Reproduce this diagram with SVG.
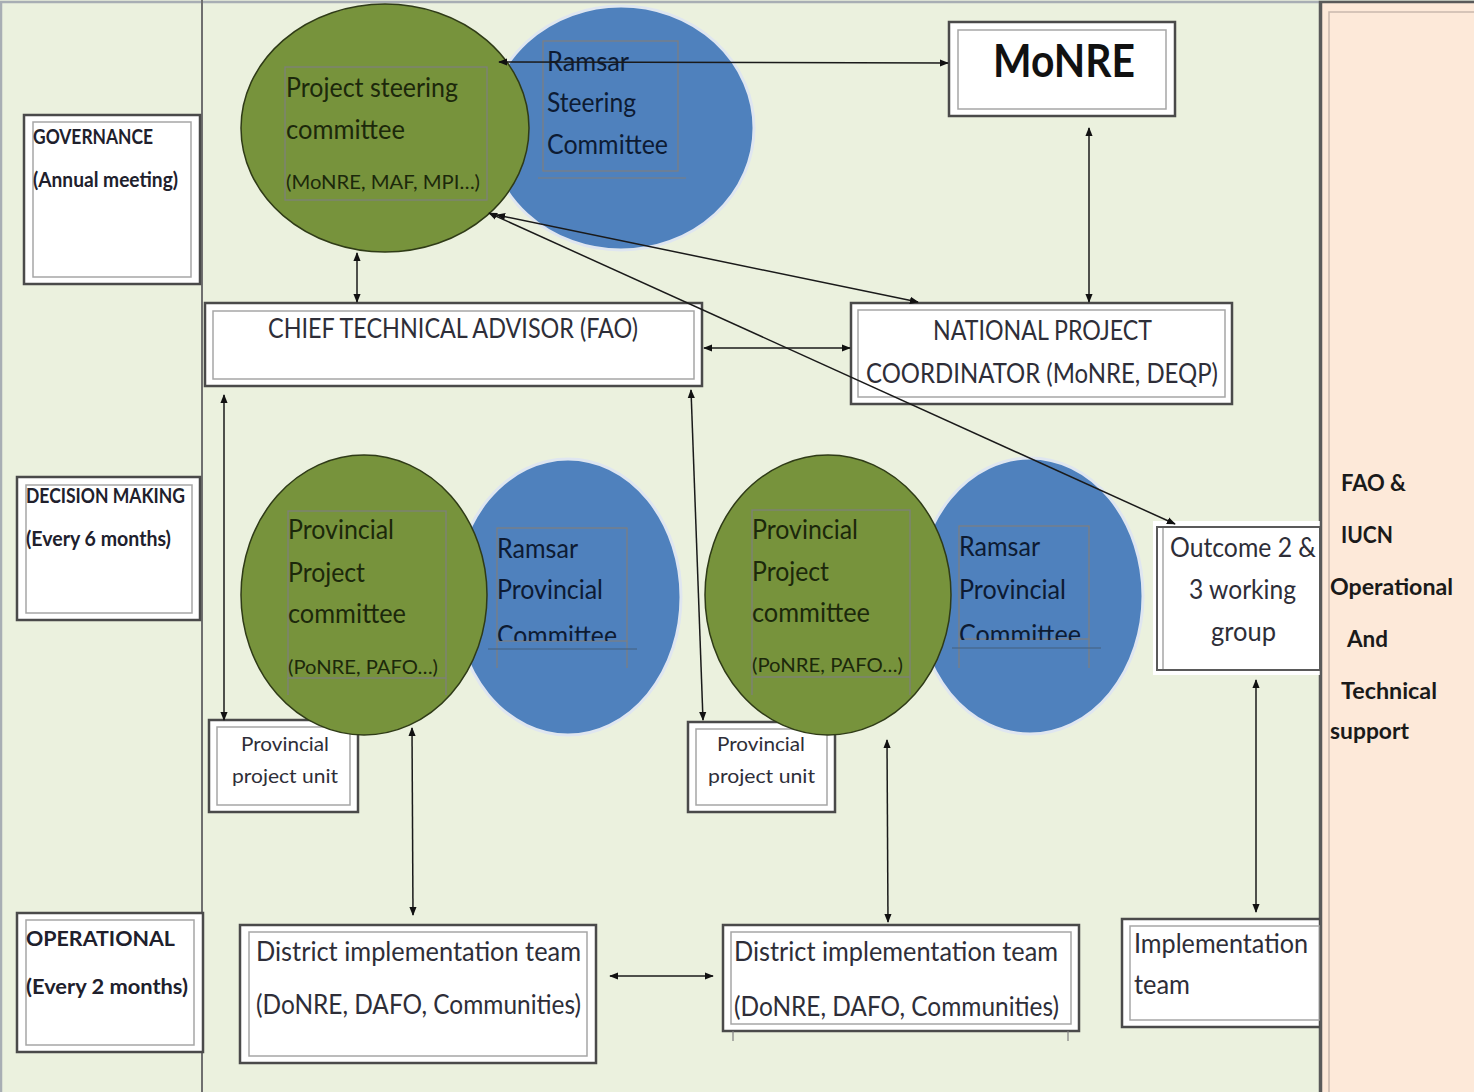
<svg xmlns="http://www.w3.org/2000/svg" width="1474" height="1092" viewBox="0 0 1474 1092">
<defs>
<style>
.t{font-family:Lato,"Liberation Sans",sans-serif;font-size:26px;fill:#2e2e38}
.sm{font-size:20px}
.g{fill:#1c280b}
.b{fill:#0d1b33}
.lbl{font-family:Lato,"Liberation Sans",sans-serif;font-size:20px;font-weight:bold;fill:#20202c}
.rp{font-family:Lato,"Liberation Sans",sans-serif;font-size:22px;font-weight:bold;fill:#1a1a1a}
.ob{fill:#fff;stroke:#4a4a4a;stroke-width:2.5}
.ib{fill:none;stroke:#a6a6a6;stroke-width:1.5}
.gc{fill:#77933C;stroke:#2f3b17;stroke-width:1.5}
.bc{fill:#4F81BD;stroke:#dfe6f0;stroke-width:3}
.tf{fill:none;stroke:#7f7f7f;stroke-width:1.2}
#connectors line{stroke:#1a1a1a;stroke-width:1.5;marker-start:url(#ah);marker-end:url(#ah)}
</style>
<marker id="ah" viewBox="0 0 10 10" refX="9" refY="5" markerWidth="9" markerHeight="9" markerUnits="userSpaceOnUse" orient="auto-start-reverse">
<path d="M0,1 L10,5 L0,9 z" fill="#111"/>
</marker>
<clipPath id="cb1"><rect x="480" y="520" width="170" height="121"/></clipPath>
<clipPath id="cb2"><rect x="940" y="520" width="170" height="120"/></clipPath>
</defs>

<!-- background -->
<rect x="0" y="0" width="1474" height="1092" fill="#EBF1DE"/>
<rect x="1" y="2" width="1480" height="1095" fill="none" stroke="#a8aeb4" stroke-width="2.5"/>
<line x1="202" y1="0" x2="202" y2="1092" stroke="#6f6f6f" stroke-width="2"/>

<!-- right panel -->
<g id="support-panel">
<rect x="1320" y="2" width="160" height="1100" fill="#FDE9D9" stroke="#5a5a5a" stroke-width="2.5"/>
<rect x="1329" y="12" width="160" height="1100" fill="none" stroke="#c9b8ad" stroke-width="1.5"/>
<text class="rp" x="1341" y="491" textLength="65" lengthAdjust="spacingAndGlyphs">FAO &amp;</text>
<text class="rp" x="1341" y="543" textLength="52" lengthAdjust="spacingAndGlyphs">IUCN</text>
<text class="rp" x="1330" y="595" textLength="123" lengthAdjust="spacingAndGlyphs">Operational</text>
<text class="rp" x="1347" y="647" textLength="41" lengthAdjust="spacingAndGlyphs">And</text>
<text class="rp" x="1341" y="699" textLength="96" lengthAdjust="spacingAndGlyphs">Technical</text>
<text class="rp" x="1330" y="739" textLength="79" lengthAdjust="spacingAndGlyphs">support</text>
</g>

<!-- level labels -->
<g id="governance">
<rect class="ob" x="24" y="115" width="176" height="169"/>
<rect class="ib" x="33" y="122" width="158" height="155"/>
<text class="lbl" x="33" y="144" textLength="120" lengthAdjust="spacingAndGlyphs">GOVERNANCE</text>
<text class="lbl" x="33" y="187" textLength="145" lengthAdjust="spacingAndGlyphs">(Annual meeting)</text>
</g>
<g id="decision-making">
<rect class="ob" x="17" y="477" width="183" height="143"/>
<rect class="ib" x="26" y="485" width="166" height="128"/>
<text class="lbl" x="26" y="503" textLength="159" lengthAdjust="spacingAndGlyphs">DECISION MAKING</text>
<text class="lbl" x="26" y="546" textLength="145" lengthAdjust="spacingAndGlyphs">(Every 6  months)</text>
</g>
<g id="operational">
<rect class="ob" x="17" y="913" width="186" height="139"/>
<rect class="ib" x="26" y="920" width="168" height="125"/>
<text class="lbl" x="26" y="946" textLength="149" lengthAdjust="spacingAndGlyphs">OPERATIONAL</text>
<text class="lbl" x="26" y="994" textLength="162" lengthAdjust="spacingAndGlyphs">(Every 2  months)</text>
</g>

<!-- top committees -->
<g id="ramsar-steering">
<ellipse class="bc" cx="621" cy="128" rx="133" ry="122"/>
<rect class="tf" x="543" y="41" width="135" height="130"/>
<line class="tf" x1="538" y1="178" x2="686" y2="178"/>
<text class="t b" x="547" y="71" textLength="82" lengthAdjust="spacingAndGlyphs">Ramsar</text>
<text class="t b" x="547" y="112" textLength="89" lengthAdjust="spacingAndGlyphs">Steering</text>
<text class="t b" x="547" y="154" textLength="121" lengthAdjust="spacingAndGlyphs">Committee</text>
</g>
<g id="project-steering">
<ellipse class="gc" cx="385" cy="128" rx="144" ry="124"/>
<rect class="tf" x="285" y="67" width="202" height="133"/>
<text class="t g" x="286" y="97" textLength="172" lengthAdjust="spacingAndGlyphs">Project steering</text>
<text class="t g" x="286" y="139" textLength="119" lengthAdjust="spacingAndGlyphs">committee</text>
<text class="t g sm" x="286" y="189" textLength="194" lengthAdjust="spacingAndGlyphs">(MoNRE,  MAF, MPI…)</text>
</g>

<g id="monre">
<rect class="ob" x="949" y="22" width="226" height="94"/>
<rect class="ib" x="958" y="30" width="208" height="79"/>
<text x="1064" y="77" text-anchor="middle" font-family="Lato,'Liberation Sans',sans-serif" font-size="46" font-weight="bold" fill="#111" textLength="142" lengthAdjust="spacingAndGlyphs">MoNRE</text>
</g>

<g id="cta">
<rect class="ob" x="205" y="303" width="497" height="83"/>
<rect class="ib" x="213" y="311" width="481" height="68"/>
<text class="t" x="268" y="338" textLength="370" lengthAdjust="spacingAndGlyphs">CHIEF TECHNICAL ADVISOR (FAO)</text>
</g>

<g id="npc">
<rect class="ob" x="851" y="303" width="381" height="101"/>
<rect class="ib" x="858" y="310" width="367" height="87"/>
<text class="t" x="933" y="340" textLength="219" lengthAdjust="spacingAndGlyphs">NATIONAL PROJECT</text>
<text class="t" x="866" y="383" textLength="352" lengthAdjust="spacingAndGlyphs">COORDINATOR (MoNRE, DEQP)</text>
</g>

<!-- provincial units (behind circles) -->
<g id="ppu-1">
<rect class="ob" x="209" y="720" width="149" height="92"/>
<rect class="ib" x="217" y="727" width="133" height="78"/>
<text class="t sm" x="241" y="751" textLength="88" lengthAdjust="spacingAndGlyphs" fill="#3d3648">Provincial</text>
<text class="t sm" x="232" y="783" textLength="106" lengthAdjust="spacingAndGlyphs" fill="#3d3648">project unit</text>
</g>
<g id="ppu-2">
<rect class="ob" x="688" y="722" width="147" height="90"/>
<rect class="ib" x="696" y="729" width="131" height="76"/>
<text class="t sm" x="717" y="751" textLength="88" lengthAdjust="spacingAndGlyphs" fill="#3d3648">Provincial</text>
<text class="t sm" x="708" y="783" textLength="107" lengthAdjust="spacingAndGlyphs" fill="#3d3648">project unit</text>
</g>

<g id="ramsar-provincial-1">
<ellipse class="bc" cx="568" cy="597" rx="113" ry="138"/>
<rect class="tf" x="497" y="528" width="130" height="113"/>
<line class="tf" x1="497" y1="641" x2="497" y2="668"/>
<line class="tf" x1="627" y1="641" x2="627" y2="668"/>
<line x1="488" y1="649" x2="637" y2="649" stroke="#44607f" stroke-width="1.2"/>
<g clip-path="url(#cb1)">
<text class="t b" x="497" y="558" textLength="81" lengthAdjust="spacingAndGlyphs">Ramsar</text>
<text class="t b" x="497" y="599" textLength="106" lengthAdjust="spacingAndGlyphs">Provincial</text>
<text class="t b" x="497" y="645" textLength="120" lengthAdjust="spacingAndGlyphs">Committee</text>
</g>
</g>
<g id="provincial-committee-1">
<ellipse class="gc" cx="364" cy="595" rx="123" ry="140"/>
<rect class="tf" x="288" y="511" width="158" height="167"/>
<line class="tf" x1="288" y1="678" x2="288" y2="695"/>
<line class="tf" x1="446" y1="678" x2="446" y2="695"/>
<text class="t g" x="288" y="539" textLength="106" lengthAdjust="spacingAndGlyphs">Provincial</text>
<text class="t g" x="288" y="582" textLength="77" lengthAdjust="spacingAndGlyphs">Project</text>
<text class="t g" x="288" y="623" textLength="118" lengthAdjust="spacingAndGlyphs">committee</text>
<text class="t g sm" x="288" y="674" textLength="150" lengthAdjust="spacingAndGlyphs">(PoNRE,  PAFO…)</text>
</g>

<g id="ramsar-provincial-2">
<ellipse class="bc" cx="1030" cy="596" rx="113" ry="138"/>
<rect class="tf" x="959" y="526" width="130" height="113"/>
<line class="tf" x1="959" y1="639" x2="959" y2="668"/>
<line class="tf" x1="1089" y1="639" x2="1089" y2="668"/>
<line x1="952" y1="648" x2="1101" y2="648" stroke="#44607f" stroke-width="1.2"/>
<g clip-path="url(#cb2)">
<text class="t b" x="959" y="556" textLength="81" lengthAdjust="spacingAndGlyphs">Ramsar</text>
<text class="t b" x="959" y="599" textLength="107" lengthAdjust="spacingAndGlyphs">Provincial</text>
<text class="t b" x="959" y="644" textLength="122" lengthAdjust="spacingAndGlyphs">Committee</text>
</g>
</g>
<g id="provincial-committee-2">
<ellipse class="gc" cx="828" cy="595" rx="123" ry="140"/>
<rect class="tf" x="752" y="510" width="158" height="167"/>
<line class="tf" x1="752" y1="677" x2="752" y2="695"/>
<line class="tf" x1="910" y1="677" x2="910" y2="695"/>
<text class="t g" x="752" y="539" textLength="106" lengthAdjust="spacingAndGlyphs">Provincial</text>
<text class="t g" x="752" y="581" textLength="77" lengthAdjust="spacingAndGlyphs">Project</text>
<text class="t g" x="752" y="622" textLength="118" lengthAdjust="spacingAndGlyphs">committee</text>
<text class="t g sm" x="752" y="672" textLength="151" lengthAdjust="spacingAndGlyphs">(PoNRE,  PAFO…)</text>
</g>

<g id="outcome-working-group">
<rect x="1153" y="521" width="167" height="154" fill="#fff"/>
<rect x="1157" y="527" width="163" height="143" fill="#fff" stroke="#5a5a5a" stroke-width="2"/>
<line x1="1163" y1="528" x2="1163" y2="669" stroke="#a6a6a6" stroke-width="1.5"/>
<text class="t" x="1170" y="557" textLength="146" lengthAdjust="spacingAndGlyphs" fill="#3c3a3a">Outcome 2 &amp;</text>
<text class="t" x="1189" y="599" textLength="107" lengthAdjust="spacingAndGlyphs" fill="#3c3a3a">3 working</text>
<text class="t" x="1211" y="641" textLength="65" lengthAdjust="spacingAndGlyphs" fill="#3c3a3a">group</text>
</g>

<!-- district level -->
<g id="district-team-1">
<rect class="ob" x="240" y="925" width="356" height="138"/>
<rect class="ib" x="249" y="932" width="338" height="124"/>
<text class="t" x="256" y="961" textLength="325" lengthAdjust="spacingAndGlyphs">District implementation team</text>
<text class="t" x="256" y="1014" textLength="325" lengthAdjust="spacingAndGlyphs">(DoNRE, DAFO, Communities)</text>
</g>
<g id="district-team-2">
<rect class="ob" x="723" y="925" width="356" height="106"/>
<rect class="ib" x="731" y="932" width="340" height="92"/>
<line class="tf" x1="733" y1="1031" x2="733" y2="1041"/>
<line class="tf" x1="1068" y1="1031" x2="1068" y2="1041"/>
<text class="t" x="734" y="961" textLength="324" lengthAdjust="spacingAndGlyphs">District implementation team</text>
<text class="t" x="734" y="1016" textLength="325" lengthAdjust="spacingAndGlyphs">(DoNRE, DAFO, Communities)</text>
</g>
<g id="implementation-team">
<rect class="ob" x="1122" y="919" width="198" height="108"/>
<rect class="ib" x="1130" y="926" width="190" height="94"/>
<text class="t" x="1134" y="953" textLength="174" lengthAdjust="spacingAndGlyphs">Implementation</text>
<text class="t" x="1134" y="994" textLength="56" lengthAdjust="spacingAndGlyphs">team</text>
</g>

<!-- redraw panel border over boxes -->
<line x1="1321" y1="2" x2="1321" y2="1092" stroke="#5a5a5a" stroke-width="2.5"/>

<g id="connectors">
<line x1="499" y1="62" x2="948" y2="63"/>
<line x1="1089" y1="128" x2="1089" y2="302"/>
<line x1="357" y1="253" x2="357" y2="302"/>
<line x1="704" y1="348" x2="850" y2="348"/>
<line x1="497" y1="215" x2="918" y2="302"/>
<line x1="489" y1="213" x2="1175" y2="524"/>
<line x1="224" y1="395" x2="224" y2="720"/>
<line x1="691" y1="390" x2="703" y2="720"/>
<line x1="412" y1="728" x2="413" y2="915"/>
<line x1="887" y1="740" x2="888" y2="922"/>
<line x1="610" y1="976" x2="713" y2="976"/>
<line x1="1256" y1="680" x2="1256" y2="912"/>
</g>
</svg>
